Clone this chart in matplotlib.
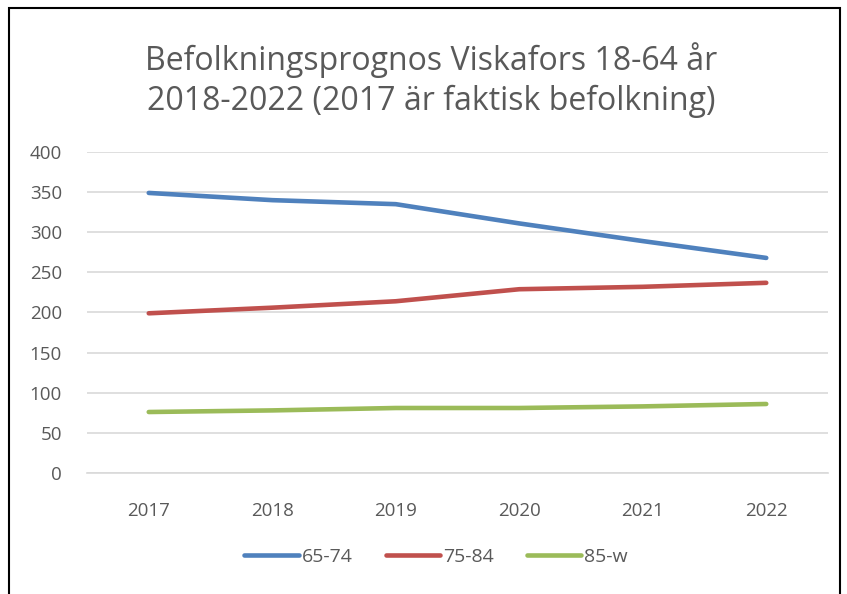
import matplotlib.pyplot as plt
from matplotlib.patches import Rectangle

years = ['2017', '2018', '2019', '2020', '2021', '2022']
age_65_74 = [349, 340, 335, 311, 289, 268]
age_75_84 = [199, 206, 214, 229, 232, 237]
age_85_w = [76, 78, 81, 81, 83, 86]

plt.rcParams['font.family'] = ['Open Sans', 'DejaVu Sans']
text_col = '#595959'

fig = plt.figure(figsize=(8.47, 5.94), dpi=100)
ax = fig.add_axes([87 / 847, 1 - 473 / 594, 741 / 847, 321 / 594])

x = range(len(years))
ax.plot(x, age_65_74, color='#4F81BD', lw=3.3, solid_capstyle='round', label='65-74')
ax.plot(x, age_75_84, color='#C0504D', lw=3.3, solid_capstyle='round', label='75-84')
ax.plot(x, age_85_w, color='#9BBB59', lw=3.3, solid_capstyle='round', label='85-w')

ax.set_xlim(-0.5, 5.5)
ax.set_ylim(0, 400)
ax.set_yticks(range(0, 401, 50))
ax.set_xticks(list(x))
ax.set_xticklabels(years)
ax.grid(axis='y', color='#D9D9D9', lw=1.2)
ax.set_axisbelow(True)
for s in ['top', 'right', 'left']:
    ax.spines[s].set_visible(False)
ax.spines['bottom'].set_color('#D9D9D9')
ax.spines['bottom'].set_linewidth(1.2)
ax.tick_params(axis='both', length=0, labelsize=13.5, colors=text_col)
ax.tick_params(axis='y', pad=18)
ax.tick_params(axis='x', pad=21)

fig.text(0.509, 1 - 80 / 594, 'Befolkningsprognos Viskafors 18-64 år\n2018-2022 (2017 är faktisk befolkning)',
         ha='center', va='center', fontsize=23, color=text_col, linespacing=1.3)

fig.legend(loc='center', bbox_to_anchor=(0.515, 1 - 557 / 594), ncol=3, frameon=False,
           fontsize=14, handlelength=2.8, handletextpad=0.15, columnspacing=1.7,
           labelcolor=text_col)

fig.patches.append(Rectangle((9 / 847, -0.02), 831 / 847, 1.02 - 8 / 594,
                             transform=fig.transFigure, fill=False, ec='black', lw=1.5))

fig.savefig('out.png', dpi=100)
